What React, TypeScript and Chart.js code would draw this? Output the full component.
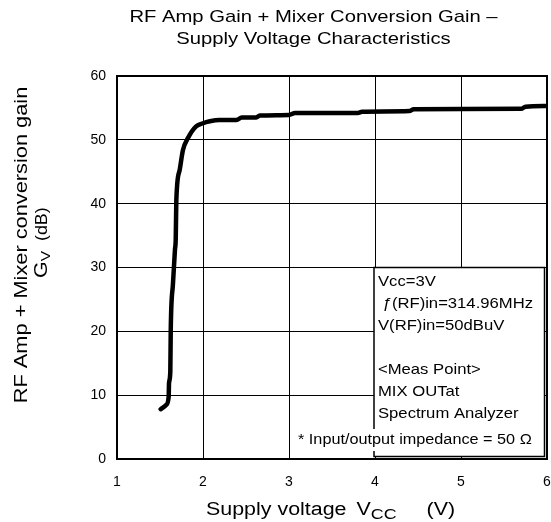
import React, { useEffect, useRef } from "react";
import { Chart, registerables } from "chart.js";

Chart.register(...registerables);

const voltage = [1.508, 1.574, 1.601, 1.605, 1.62, 1.625, 1.651, 1.674, 1.683, 1.69, 1.729, 1.767, 1.826, 1.92, 2.0, 2.08, 2.19, 2.39, 2.45, 2.62, 2.66, 3.0, 3.07, 3.8, 3.85, 4.4, 4.45, 5.7, 5.75, 6.0];
const gain = [7.8, 8.5, 9.8, 11.9, 13.7, 20.2, 27.5, 32.8, 34.5, 40.6, 45.3, 48.4, 50.3, 52.1, 52.6, 52.9, 53.1, 53.1, 53.5, 53.5, 53.8, 53.9, 54.2, 54.2, 54.4, 54.5, 54.8, 54.85, 55.2, 55.3];
const xTicks = [1, 2, 3, 4, 5, 6];
const yTicks = [0, 10, 20, 30, 40, 50, 60];
const titleLines = ["RF Amp Gain + Mixer Conversion Gain \u2013", "Supply Voltage Characteristics"];
const boxLines = ["Vcc=3V", " \u0192(RF)in=314.96MHz", "V(RF)in=50dBuV", "", "<Meas Point>", "MIX OUTat", "Spectrum Analyzer"];
const noteText = "* Input/output impedance = 50 \u03a9";

const FONT = "Arial, 'Liberation Sans', Helvetica, sans-serif";
const STRETCH = 1.19;

// draw text horizontally stretched (reference glyphs are wider than Arial)
function sText(ctx: any, text: string, x: number, y: number, size: number, align: "left" | "center" = "left", sx = STRETCH) {
  ctx.save();
  ctx.font = `${size}px ${FONT}`;
  const w = ctx.measureText(text).width * sx;
  ctx.translate(align === "center" ? x - w / 2 : x, y);
  ctx.scale(sx, 1);
  ctx.textAlign = "left";
  ctx.fillText(text, 0, 0);
  ctx.restore();
  return w;
}

const overlay = {
  id: "overlay",
  afterDraw(chart: any) {
    const ctx = chart.ctx;
    const xs = chart.scales.x;
    const ys = chart.scales.y;
    ctx.save();
    ctx.fillStyle = "#000";
    ctx.textBaseline = "middle";
    // Title
    titleLines.forEach((t, i) => sText(ctx, t, 313.5, 17 + i * 22, 17, "center"));

    // Info box
    const bx0 = xs.getPixelForValue(4) - 1;
    const by0 = ys.getPixelForValue(30);
    const bx1 = xs.getPixelForValue(6) - 2.5;
    const by1 = ys.getPixelForValue(0) - 2.5;
    ctx.fillStyle = "#fff";
    ctx.fillRect(bx0, by0, bx1 - bx0, by1 - by0);
    ctx.strokeStyle = "#000";
    ctx.lineWidth = 1.5;
    ctx.strokeRect(bx0, by0, bx1 - bx0, by1 - by0);
    ctx.fillStyle = "#000";
    boxLines.forEach((t, i) => {
      if (t) sText(ctx, t, bx0 + 4, by0 + 14 + i * 22, 15, "left", 1.11);
    });
    // Note
    ctx.save();
    ctx.font = `14px ${FONT}`;
    const nw = ctx.measureText(noteText).width * 1.16;
    ctx.restore();
    const nx = 298;
    const ny = 440;
    ctx.fillStyle = "#fff";
    ctx.fillRect(nx - 3, ny - 11, nw + 8, 22);
    ctx.fillStyle = "#000";
    sText(ctx, noteText, nx, ny, 14, "left", 1.16);

    // Y axis title
    ctx.save();
    ctx.translate(22, 245);
    ctx.rotate(-Math.PI / 2);
    sText(ctx, "RF Amp + Mixer conversion gain", 0, 0, 18, "center", 1.21);
    ctx.restore();
    ctx.save();
    ctx.translate(41, 250);
    ctx.rotate(-Math.PI / 2);
    ctx.textBaseline = "alphabetic";
    let px = -28;
    px += sText(ctx, "G", px, 6, 18);
    px += sText(ctx, "V", px, 9, 13) + 10;
    sText(ctx, "(dB)", px, 6, 17, "left", 1.05);
    ctx.restore();

    // X axis title
    ctx.textBaseline = "alphabetic";
    let x = 206;
    const base = 515;
    x += sText(ctx, "Supply voltage", x, base, 18) + 10;
    x += sText(ctx, "V", x, base, 18);
    x += sText(ctx, "CC", x, base + 4, 15) + 30;
    sText(ctx, "(V)", x, base, 18);
    ctx.restore();
  },
};

export default function App() {
  const ref = useRef<HTMLCanvasElement | null>(null);
  useEffect(() => {
    if (!ref.current) return;
    const chart = new Chart(ref.current, {
      type: "scatter",
      data: {
        datasets: [
          {
            data: voltage.map((v, i) => ({ x: v, y: gain[i] })),
            showLine: true,
            borderColor: "#000",
            borderWidth: 4.5,
            pointRadius: 0,
            cubicInterpolationMode: "monotone",
            borderCapStyle: "round",
            borderJoinStyle: "round",
          } as any,
        ],
      },
      options: {
        responsive: false,
        animation: false,
        layout: { padding: { left: 0, top: 76, right: 4, bottom: 0 } },
        plugins: { legend: { display: false }, tooltip: { enabled: false }, title: { display: false } },
        scales: {
          x: {
            type: "linear",
            min: 1,
            max: 6,
            afterBuildTicks: (s: any) => { s.ticks = xTicks.map((v) => ({ value: v })); },
            afterFit: (s: any) => { s.height = 63; s.paddingLeft = 0; s.paddingRight = 0; },
            grid: { color: "#000", lineWidth: 1, drawTicks: false },
            border: { color: "#000", width: 2 },
            ticks: { color: "#000", font: { family: FONT, size: 14 }, padding: 15, maxRotation: 0 },
          },
          y: {
            type: "linear",
            min: 0,
            max: 60,
            afterBuildTicks: (s: any) => { s.ticks = yTicks.map((v) => ({ value: v })); },
            afterFit: (s: any) => { s.width = 117; s.paddingTop = 0; s.paddingBottom = 0; },
            grid: { color: "#000", lineWidth: 1, drawTicks: false },
            border: { color: "#000", width: 2 },
            ticks: { color: "#000", font: { family: FONT, size: 14 }, padding: 11 },
          },
        },
      },
      plugins: [
        overlay,
        {
          id: "frame",
          beforeDatasetsDraw(c: any) {
            const a = c.chartArea;
            c.ctx.save();
            c.ctx.strokeStyle = "#000";
            c.ctx.lineWidth = 2;
            c.ctx.strokeRect(a.left, a.top, a.right - a.left, a.bottom - a.top);
            c.ctx.restore();
          },
        },
      ],
    });
    return () => chart.destroy();
  }, []);
  return (
    <div style={{ position: "fixed", left: 0, top: 0, width: 551, height: 522, background: "#fff" }}>
      <canvas ref={ref} width={551} height={522} />
    </div>
  );
}
